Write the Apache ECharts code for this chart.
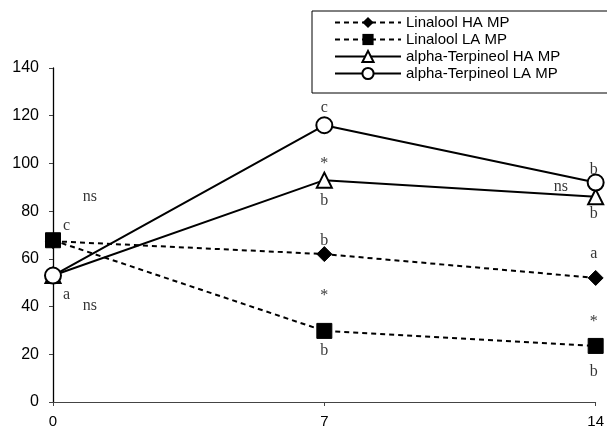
<!DOCTYPE html>
<html>
<head>
<meta charset="utf-8">
<script src="https://cdn.jsdelivr.net/npm/echarts@6/dist/echarts.min.js"></script>
<style>
  html, body { margin: 0; padding: 0; background: #fff; }
  #chart-container { width: 607px; height: 433px; }
</style>
</head>
<body>
<div id="chart-container"></div>
<script>
var days = [0, 7, 14];
var xTicks = [0, 7, 14];
var yTicks = [0, 20, 40, 60, 80, 100, 120, 140];

var linaloolHA = [67.4, 62, 52];
var linaloolLA = [67.8, 29.8, 23.5];
var terpineolHA = [53, 93, 86];
var terpineolLA = [53, 116, 92];

var seriesNames = ['Linalool HA MP', 'Linalool LA MP', 'alpha-Terpineol HA MP', 'alpha-Terpineol LA MP'];

// significance letters: [day, value, text]
var annotations = [
  [0.35, 74, 'c'],
  [0.35, 45, 'a'],
  [0.95, 86, 'ns'],
  [0.95, 40.5, 'ns'],
  [7, 123.5, 'c'],
  [7, 100, '*'],
  [7, 84.5, 'b'],
  [7, 67.5, 'b'],
  [7, 44.5, '*'],
  [7, 21.5, 'b'],
  [13.95, 97.5, 'b'],
  [13.1, 90, 'ns'],
  [13.95, 79, 'b'],
  [13.95, 62, 'a'],
  [13.95, 33.5, '*'],
  [13.95, 12.5, 'b']
];

function pairs(vals) {
  return days.map(function (d, i) { return [d, vals[i]]; });
}

var chartDom = document.getElementById('chart-container');
var myChart = echarts.init(chartDom, null, { renderer: 'canvas' });

var dashed = { color: '#000', width: 2, type: [5, 4] };
var solid = { color: '#000', width: 2, type: 'solid' };

var option = {
  animation: false,
  backgroundColor: '#fff',
  grid: { left: 53, right: 11, top: 68, bottom: 31 },
  legend: {
    data: seriesNames,
    orient: 'vertical',
    left: 312,
    top: 11,
    padding: [4, 60, 12, 22],
    itemGap: 2,
    itemWidth: 66,
    itemHeight: 14,
    borderColor: '#000',
    borderWidth: 1,
    borderRadius: 0,
    textStyle: { fontFamily: 'Liberation Sans', fontSize: 15, color: '#000' }
  },
  xAxis: {
    type: 'value',
    min: 0,
    max: 14,
    interval: 7,
    splitLine: { show: false },
    axisLine: { onZero: false, lineStyle: { color: '#444', width: 1 } },
    axisTick: { length: 4, lineStyle: { color: '#444' } },
    axisLabel: {
      margin: 12,
      fontFamily: 'Liberation Sans',
      fontSize: 15,
      color: '#000',
      formatter: function (v) { return xTicks.indexOf(v) >= 0 ? String(v) : ''; }
    }
  },
  yAxis: {
    type: 'value',
    min: 0,
    max: 140,
    interval: 20,
    splitLine: { show: false },
    axisLine: { show: true, lineStyle: { color: '#000', width: 1.3 } },
    axisTick: { show: true, length: 4, lineStyle: { color: '#444' } },
    axisLabel: {
      margin: 14,
      fontFamily: 'Liberation Sans',
      fontSize: 16,
      color: '#000',
      formatter: function (v) { return yTicks.indexOf(v) >= 0 ? String(v) : ''; }
    }
  },
  series: [
    {
      name: seriesNames[0],
      type: 'line',
      data: pairs(linaloolHA),
      symbol: 'diamond',
      symbolSize: 15,
      clip: false,
      lineStyle: dashed,
      itemStyle: { color: '#000', borderColor: '#000' }
    },
    {
      name: seriesNames[1],
      type: 'line',
      data: pairs(linaloolLA),
      symbol: 'rect',
      symbolSize: 15,
      clip: false,
      lineStyle: dashed,
      itemStyle: { color: '#000', borderColor: '#000' }
    },
    {
      name: seriesNames[2],
      type: 'line',
      data: pairs(terpineolHA),
      symbol: 'triangle',
      symbolSize: 15,
      clip: false,
      lineStyle: solid,
      itemStyle: { color: '#fff', borderColor: '#000', borderWidth: 2 }
    },
    {
      name: seriesNames[3],
      type: 'line',
      data: pairs(terpineolLA),
      symbol: 'circle',
      symbolSize: 16,
      clip: false,
      lineStyle: solid,
      itemStyle: { color: '#fff', borderColor: '#000', borderWidth: 2 }
    },
    {
      name: 'annotations',
      type: 'scatter',
      symbolSize: 1,
      clip: false,
      silent: true,
      itemStyle: { color: 'rgba(0,0,0,0)' },
      data: annotations.map(function (a) { return { value: [a[0], a[1]], name: a[2] }; }),
      label: {
        show: true,
        position: 'inside',
        formatter: function (p) { return p.name; },
        fontFamily: 'Liberation Serif',
        fontSize: 16,
        color: '#000'
      }
    }
  ]
};

option && myChart.setOption(option);
</script>
</body>
</html>
